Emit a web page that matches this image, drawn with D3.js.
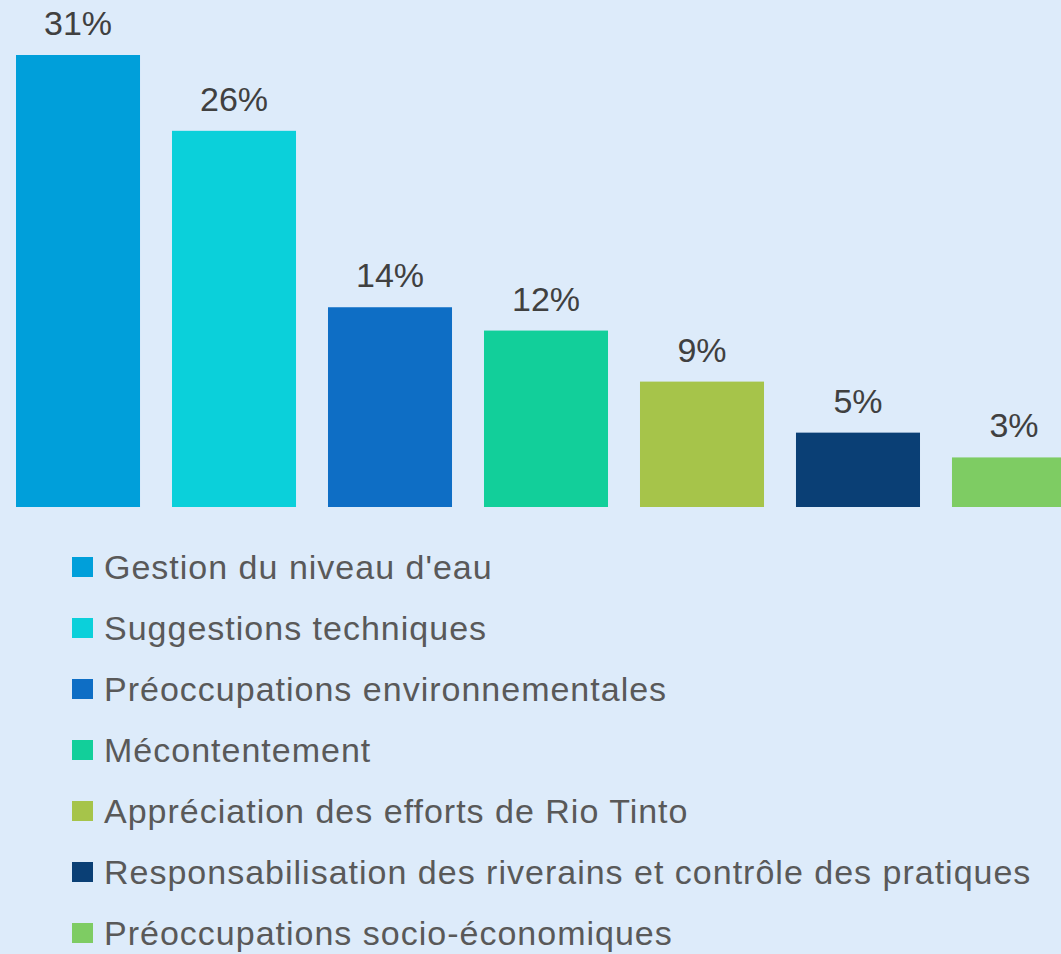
<!DOCTYPE html>
<html>
<head>
<meta charset="utf-8">
<script src="https://cdn.jsdelivr.net/npm/d3@7"></script>
<style>
  html, body { margin: 0; padding: 0; background: #ddebfa; }
  svg { display: block; }
</style>
</head>
<body>
<div id="chart"></div>
<script>
var categories = [
  "Gestion du niveau d'eau",
  "Suggestions techniques",
  "Préoccupations environnementales",
  "Mécontentement",
  "Appréciation des efforts de Rio Tinto",
  "Responsabilisation des riverains et contrôle des pratiques",
  "Préoccupations socio-économiques"
];
var values = [31, 25.8, 13.7, 12.1, 8.6, 5.1, 3.4];
var colors = ["#009fda", "#0bd0da", "#0e6ec5", "#12cf9a", "#a6c44a", "#0a3f75", "#7ecc63"];

var width = 1061, height = 954;

var svg = d3.select("#chart").append("svg")
  .attr("width", width)
  .attr("height", height);

svg.append("rect").attr("width", width).attr("height", height).attr("fill", "#ddebfa");

var x = d3.scaleBand()
  .domain(categories)
  .range([16, 1076])
  .paddingInner(0.205)
  .paddingOuter(0);

var y = d3.scaleLinear()
  .domain([0, 31])
  .range([507, 55]);

var bars = svg.append("g");
bars.selectAll("rect")
  .data(categories)
  .enter().append("rect")
  .attr("x", function(d) { return x(d); })
  .attr("y", function(d, i) { return y(values[i]); })
  .attr("width", x.bandwidth())
  .attr("height", function(d, i) { return y(0) - y(values[i]); })
  .attr("fill", function(d, i) { return colors[i]; });

bars.selectAll("text")
  .data(categories)
  .enter().append("text")
  .attr("x", function(d) { return x(d) + x.bandwidth() / 2; })
  .attr("y", function(d, i) { return y(values[i]) - 20; })
  .attr("text-anchor", "middle")
  .attr("font-family", "Liberation Sans, Arial, sans-serif")
  .attr("font-size", 34)
  .attr("fill", "#404040")
  .text(function(d, i) { return Math.round(values[i]) + "%"; });

// legend, one entry per row
var legend = svg.append("g");
var rows = legend.selectAll("g")
  .data(categories)
  .enter().append("g")
  .attr("transform", function(d, i) { return "translate(72," + (567 + i * 61) + ")"; });

rows.append("rect")
  .attr("x", 0)
  .attr("y", -10)
  .attr("width", 21)
  .attr("height", 20)
  .attr("fill", function(d, i) { return colors[i]; });

rows.append("text")
  .attr("x", 32)
  .attr("y", 0)
  .attr("dy", "0.36em")
  .attr("font-family", "Liberation Sans, Arial, sans-serif")
  .attr("font-size", 34)
  .attr("letter-spacing", 1)
  .attr("fill", "#595959")
  .text(function(d) { return d; });
</script>
</body>
</html>
